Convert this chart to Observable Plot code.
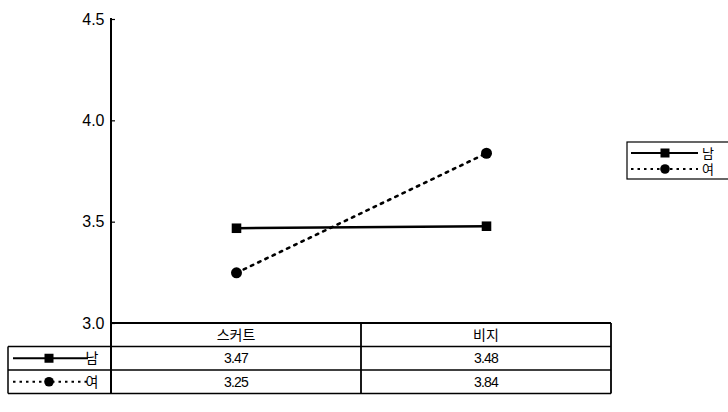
<!DOCTYPE html>
<html>
<head>
<meta charset="utf-8">
<script src="https://cdn.jsdelivr.net/npm/d3@7"></script>
<script src="https://cdn.jsdelivr.net/npm/@observablehq/plot@0.6"></script>
<style>
  html, body { margin: 0; padding: 0; background: #fff; }
  #chart svg { display: block; }
</style>
</head>
<body>
<div id="chart"></div>
<script>
const categories = ["스커트", "비지"];
const seriesNames = ["남", "여"];
const maleValues = [3.47, 3.48];
const femaleValues = [3.25, 3.84];
const tableLabels = [["3.47", "3.48"], ["3.25", "3.84"]];
const yTicks = [3.0, 3.5, 4.0, 4.5];

const data = [
  ...categories.map((c, i) => ({category: c, series: seriesNames[0], value: maleValues[i]})),
  ...categories.map((c, i) => ({category: c, series: seriesNames[1], value: femaleValues[i]}))
];
const male = data.filter(d => d.series === "남");
const female = data.filter(d => d.series === "여");

const W = 728, H = 412;
const mL = 111, mR = 117, mT = 19, mB = 89;
const FONT = "'Liberation Sans', Arial, 'Noto Sans CJK KR', sans-serif";

const chart = Plot.plot({
  width: W,
  height: H,
  marginLeft: mL,
  marginRight: mR,
  marginTop: mT,
  marginBottom: mB,
  style: {fontFamily: FONT, fontSize: "16px", color: "#000", background: "#fff"},
  x: {type: "point", domain: categories, padding: 0.5, axis: null},
  y: {domain: [3, 4.5], ticks: yTicks, tickFormat: d3.format(".1f"), label: null},
  marks: [
    Plot.axisY({ticks: yTicks, tickFormat: d3.format(".1f"), label: null, tickSize: -4, tickPadding: 11, stroke: "#000", strokeWidth: 1.2, fontSize: 16, letterSpacing: "-1"}),
    Plot.line(male, {x: "category", y: "value", stroke: "#000", strokeWidth: 2.5}),
    Plot.line(female, {x: "category", y: "value", stroke: "#000", strokeWidth: 2.6, strokeDasharray: "2.5,5.5"}),
    Plot.dot(male, {x: "category", y: "value", symbol: "square", r: 5.4, fill: "#000"}),
    Plot.dot(female, {x: "category", y: "value", symbol: "circle", r: 5.5, fill: "#000"})
  ]
});
document.getElementById("chart").appendChild(chart);

// Table and legend drawn with the plot's own scales
const x = chart.scale("x"), y = chart.scale("y");
const svg = d3.select(chart);
const left = mL, right = W - mR;
const y0 = y.apply(3), yTop = y.apply(4.5);
const mid = (x.apply(categories[0]) + x.apply(categories[1])) / 2;
const rowH = 23.5;
const yBot = y0 + 3 * rowH;
const g = svg.append("g").attr("stroke", "#000").attr("fill", "none");
// axis line (also the table's first column border)
g.append("line").attr("x1", left).attr("x2", left).attr("y1", yTop - 1).attr("y2", yBot).attr("stroke-width", 2);
// table horizontal lines
g.append("line").attr("x1", left).attr("x2", right).attr("y1", y0).attr("y2", y0).attr("stroke-width", 2);
[1, 2, 3].forEach(k => {
  g.append("line").attr("x1", 8).attr("x2", right).attr("y1", y0 + k * rowH).attr("y2", y0 + k * rowH).attr("stroke-width", 1.5);
});
// vertical lines
g.append("line").attr("x1", mid).attr("x2", mid).attr("y1", y0).attr("y2", yBot).attr("stroke-width", 1.8);
g.append("line").attr("x1", right).attr("x2", right).attr("y1", y0).attr("y2", yBot).attr("stroke-width", 1.8);
g.append("line").attr("x1", 8).attr("x2", 8).attr("y1", y0 + rowH).attr("y2", yBot).attr("stroke-width", 1.5);

const t = svg.append("g").attr("font-family", FONT).attr("fill", "#000");
categories.forEach((c, i) => {
  t.append("text").attr("x", x.apply(c)).attr("y", y0 + rowH / 2).attr("dy", "0.36em")
    .attr("text-anchor", "middle").attr("font-size", 14).text(c);
  tableLabels.forEach((row, r) => {
    t.append("text").attr("x", x.apply(c)).attr("y", y0 + rowH * (r + 1.5)).attr("dy", "0.36em")
      .attr("text-anchor", "middle").attr("font-size", 14).attr("letter-spacing", "-0.8").text(row[i]);
  });
});

function sample(gg, cx, cy, idx, lineX1, lineX2, textX, fs) {
  const ln = gg.append("line").attr("x1", lineX1).attr("x2", lineX2).attr("y1", cy).attr("y2", cy)
    .attr("stroke", "#000");
  if (idx === 0) {
    ln.attr("stroke-width", 2.2);
    gg.append("rect").attr("x", cx - 4.5).attr("y", cy - 4.5).attr("width", 9).attr("height", 9).attr("fill", "#000");
  } else {
    ln.attr("stroke-width", 2.2).attr("stroke-dasharray", "2.5,4");
    gg.append("circle").attr("cx", cx).attr("cy", cy).attr("r", 4.8).attr("fill", "#000");
  }
  gg.append("text").attr("x", textX).attr("y", cy).attr("dy", "0.36em").attr("font-size", fs)
    .attr("font-family", FONT).attr("fill", "#000").text(seriesNames[idx]);
}
// row headers
const rh = svg.append("g");
seriesNames.forEach((s, i) => sample(rh, 49, y0 + rowH * (i + 1.5), i, 13, 88, 92, 14));
// legend
const lg = svg.append("g");
lg.append("rect").attr("x", 627).attr("y", 142).attr("width", 120).attr("height", 37)
  .attr("fill", "#fff").attr("stroke", "#000").attr("stroke-width", 1.2);
seriesNames.forEach((s, i) => sample(lg, 665, 153 + i * 16, i, 631, 698, 708, 13));
</script>
</body>
</html>
